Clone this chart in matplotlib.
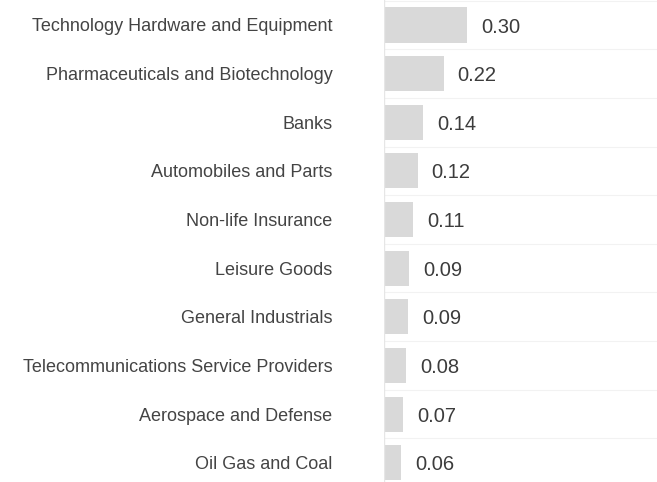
import numpy as np
import matplotlib.pyplot as plt

# Sector weights, top to bottom
sectors = [
    "Technology Hardware and Equipment",
    "Pharmaceuticals and Biotechnology",
    "Banks",
    "Automobiles and Parts",
    "Non-life Insurance",
    "Leisure Goods",
    "General Industrials",
    "Telecommunications Service Providers",
    "Aerospace and Defense",
    "Oil Gas and Coal",
]
weights = [0.301, 0.215, 0.142, 0.121, 0.105, 0.092, 0.087, 0.080, 0.069, 0.062]
value_labels = ["0.30", "0.22", "0.14", "0.12", "0.11", "0.09", "0.09", "0.08", "0.07", "0.06"]


def main():
    plt.rcParams['font.family'] = ['Liberation Sans', 'DejaVu Sans']
    fig = plt.figure(figsize=(6.57, 4.82), dpi=100)
    ax = fig.add_axes([384 / 657, 0, 1 - 384 / 657, 1])

    y = np.arange(len(sectors))
    ax.barh(y, weights, height=0.72, color='#d9d9d9', zorder=2)

    # value labels to the right of the bars
    for yi, w, lab in zip(y, weights, value_labels):
        ax.annotate(lab, (w, yi), xytext=(10, -1.5), textcoords='offset points',
                    va='center', ha='left', fontsize=14.5, color='#3c3c3c')

    # separators between rows
    for b in np.arange(-0.5, len(sectors) + 0.5):
        ax.axhline(b, color='#f2f2f2', linewidth=0.8, zorder=1)
    ax.axvline(0, color='#e6e6e6', linewidth=1.0, zorder=3)

    ax.set_yticks(y)
    ax.set_yticklabels(sectors, fontsize=13, color='#444444')
    ax.tick_params(axis='y', length=0, pad=37)
    ax.set_xticks([])
    ax.set_xlim(0, 0.985)
    ax.set_ylim(9.397, -0.514)
    for s in ax.spines.values():
        s.set_visible(False)

    fig.savefig("out.png", dpi=100)


if __name__ == "__main__":
    main()
